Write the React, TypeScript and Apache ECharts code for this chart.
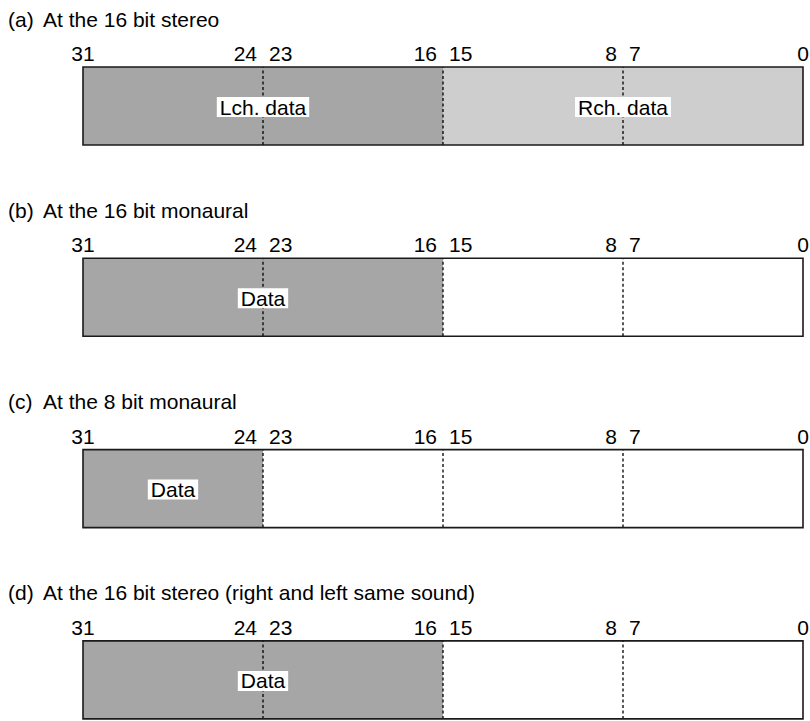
import React, { useEffect, useRef } from "react";
import * as echarts from "echarts";

// ---- data ----
const panelTags = ["(a)", "(b)", "(c)", "(d)"];
const panelTitles = [
  "At the 16 bit stereo",
  "At the 16 bit monaural",
  "At the 8 bit monaural",
  "At the 16 bit stereo (right and left same sound)",
];
const bitLabels = [31, 24, 23, 16, 15, 8, 7, 0];
const byteBoundaries = [24, 16, 8];
const fieldMsb = [[31, 15], [31], [31], [31]];
const fieldLsb = [[16, 0], [16], [24], [16]];
const fieldNames = [["Lch. data", "Rch. data"], ["Data"], ["Data"], ["Data"]];
const fieldChannel = [["L", "R"], ["M"], ["M"], ["M"]];

// ---- styles ----
const FONT_FAMILY = '"Liberation Sans", Arial, Helvetica, sans-serif';
const DARK = "#a6a6a6";
const LIGHT = "#cecece";
const BOX_LEFT = 83;
const BOX_WIDTH = 720;
const BOX_HEIGHT = 78;
const FIRST_TOP = 67;
const PANEL_STEP = 191.3;

function buildOption() {
  const grid: any[] = [];
  const xAxis: any[] = [];
  const yAxis: any[] = [];
  const series: any[] = [];
  const graphic: any[] = [];

  panelTitles.forEach((title, i) => {
    const top = FIRST_TOP + i * PANEL_STEP;
    grid.push({ left: BOX_LEFT, width: BOX_WIDTH, top, height: BOX_HEIGHT });
    xAxis.push({ type: "value", gridIndex: i, min: 0, max: 32, inverse: true, show: false });
    yAxis.push({ type: "value", gridIndex: i, min: 0, max: 1, show: false });

    graphic.push({
      type: "text",
      x: 8,
      y: top - 48,
      style: { text: panelTags[i], font: `21px ${FONT_FAMILY}`, fill: "#000", verticalAlign: "middle" },
    });
    graphic.push({
      type: "text",
      x: 43,
      y: top - 48,
      style: { text: title, font: `21px ${FONT_FAMILY}`, fill: "#000", verticalAlign: "middle" },
    });

    const fieldData = fieldMsb[i].map((m, j) => [m, fieldLsb[i][j], j]);

    // filled fields
    series.push({
      type: "custom",
      xAxisIndex: i,
      yAxisIndex: i,
      z: 1,
      data: fieldData,
      renderItem: (params: any, api: any) => {
        const j = api.value(2);
        const p0 = api.coord([api.value(0) + 1, 1]);
        const p1 = api.coord([api.value(1), 0]);
        const ch = fieldChannel[i][j];
        return {
          type: "rect",
          shape: { x: p0[0], y: p0[1], width: p1[0] - p0[0], height: p1[1] - p0[1] },
          style: { fill: ch === "R" ? LIGHT : DARK },
        };
      },
    });

    // dashed byte dividers
    series.push({
      type: "custom",
      xAxisIndex: i,
      yAxisIndex: i,
      z: 2,
      data: byteBoundaries.map((b) => [b]),
      renderItem: (params: any, api: any) => {
        const a = api.coord([api.value(0), 0]);
        const b = api.coord([api.value(0), 1]);
        return {
          type: "line",
          shape: { x1: a[0], y1: a[1], x2: b[0], y2: b[1] },
          style: { stroke: "#000", lineWidth: 1.3, lineDash: [3, 2.5] },
        };
      },
    });

    // frame
    series.push({
      type: "custom",
      xAxisIndex: i,
      yAxisIndex: i,
      z: 3,
      data: [[32, 0]],
      renderItem: (params: any, api: any) => {
        const p0 = api.coord([api.value(0), 1]);
        const p1 = api.coord([api.value(1), 0]);
        return {
          type: "rect",
          shape: { x: p0[0], y: p0[1], width: p1[0] - p0[0], height: p1[1] - p0[1] },
          style: { fill: "none", stroke: "#1a1a1a", lineWidth: 1.6 },
        };
      },
    });

    // field labels
    series.push({
      type: "custom",
      xAxisIndex: i,
      yAxisIndex: i,
      z: 4,
      data: fieldData,
      renderItem: (params: any, api: any) => {
        const j = api.value(2);
        const c = api.coord([(api.value(0) + 1 + api.value(1)) / 2, 0.5]);
        return {
          type: "text",
          x: c[0],
          y: c[1] + 1,
          style: {
            text: fieldNames[i][j],
            font: `21px ${FONT_FAMILY}`,
            fill: "#000",
            align: "center",
            verticalAlign: "middle",
            backgroundColor: "#fff",
            padding: [0, 3],
            lineHeight: 20,
          },
        };
      },
    });

    // bit number labels
    series.push({
      type: "custom",
      xAxisIndex: i,
      yAxisIndex: i,
      z: 4,
      data: bitLabels.map((b) => [b]),
      renderItem: (params: any, api: any) => {
        const bit = api.value(0);
        const isHigh = bit % 8 === 7;
        const boundary = isHigh ? bit + 1 : bit;
        const p = api.coord([boundary, 1]);
        const isEnd = bit === 31 || bit === 0;
        let x = p[0];
        let align = "center";
        if (!isEnd) {
          if (isHigh) {
            x += 6;
            align = "left";
          } else {
            x -= 6;
            align = "right";
          }
        }
        return {
          type: "text",
          x,
          y: p[1] - 13.5,
          style: {
            text: String(bit),
            font: `21px ${FONT_FAMILY}`,
            fill: "#000",
            align,
            verticalAlign: "middle",
          },
        };
      },
    });
  });

  return { animation: false, backgroundColor: "#fff", grid, xAxis, yAxis, series, graphic };
}

export default function App() {
  const ref = useRef<HTMLDivElement>(null);
  useEffect(() => {
    if (!ref.current) return;
    const chart = echarts.init(ref.current, undefined, { renderer: "svg" });
    chart.setOption(buildOption() as any);
    return () => chart.dispose();
  }, []);
  return (
    <div
      ref={ref}
      style={{ width: 810, height: 721, position: "absolute", left: 0, top: 0, background: "#fff" }}
    />
  );
}
